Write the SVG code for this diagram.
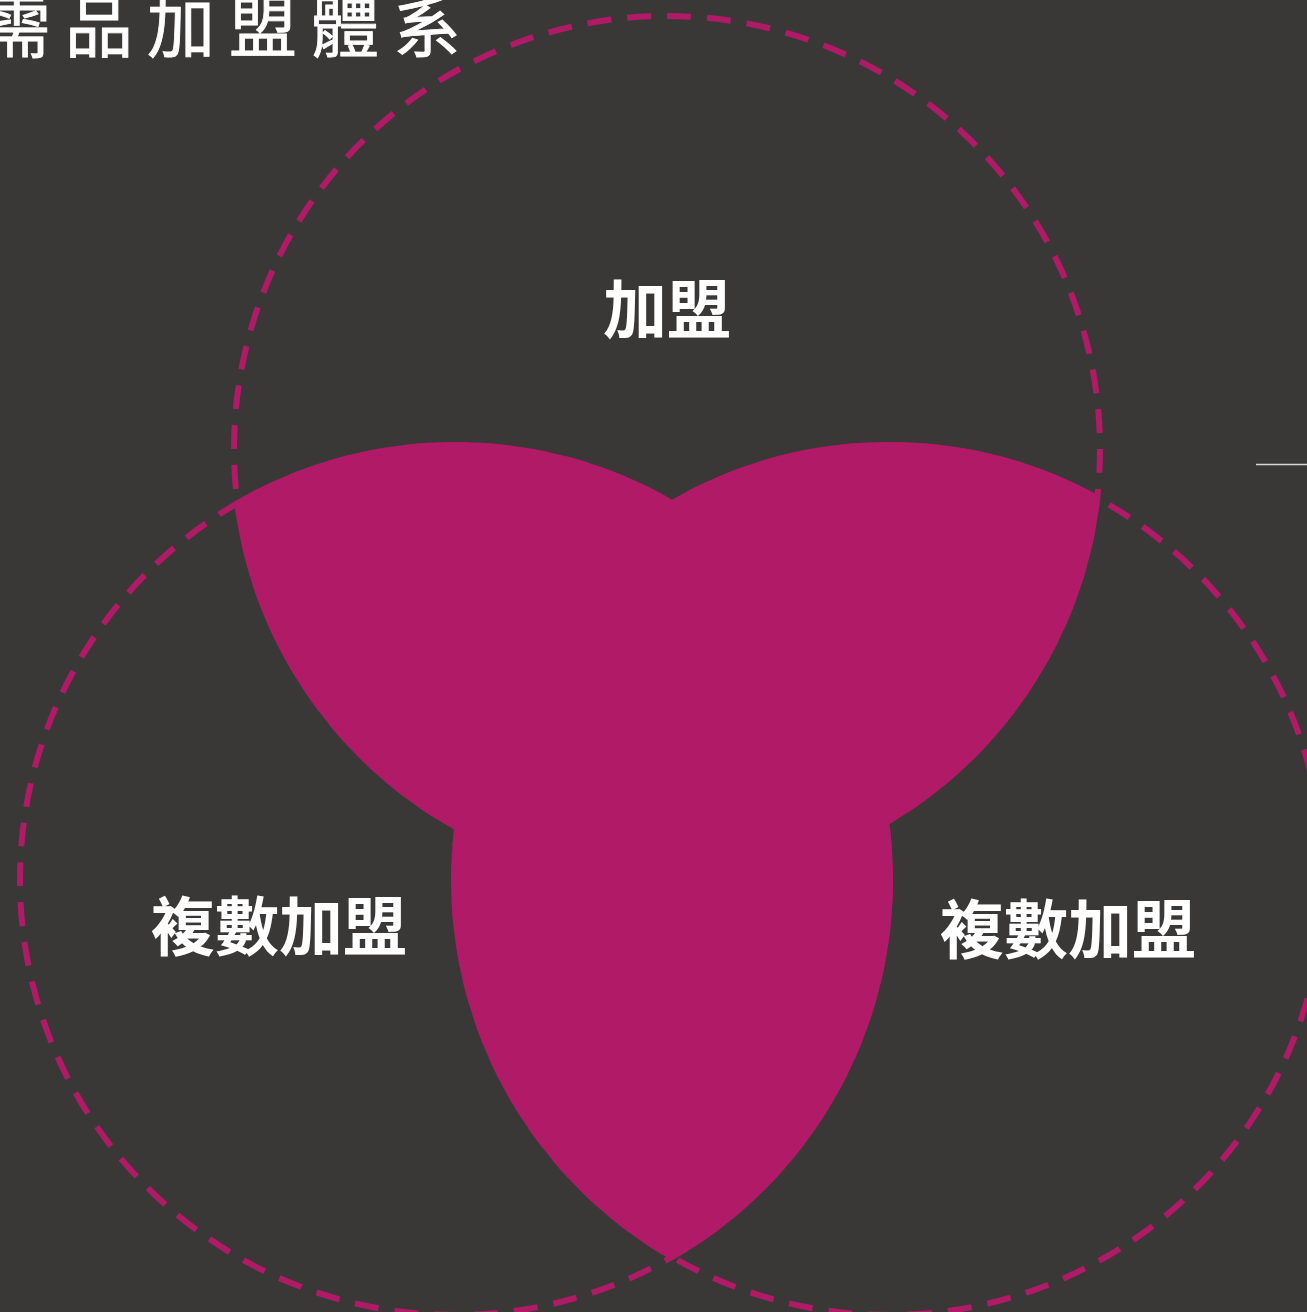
<svg xmlns="http://www.w3.org/2000/svg" width="1307" height="1312" viewBox="0 0 1307 1312">
  <style>
    .ring { fill: none; stroke: #b01a66; stroke-width: 6; stroke-dasharray: 24 16; }
    .petal { fill: #b01a66; stroke: #b01a66; stroke-width: 6; stroke-linejoin: miter; }
    .title { fill: #ffffff; stroke: #ffffff; stroke-width: 0.8; font-family: 'Liberation Sans', 'Noto Sans CJK TC', sans-serif; font-size: 68px; font-weight: 400; letter-spacing: 14px; }
    .label { fill: #ffffff; font-family: 'Liberation Sans', 'Noto Sans CJK TC', sans-serif; font-size: 64px; font-weight: 700; text-anchor: middle; }
  </style>
  <rect x="0" y="0" width="1307" height="1312" fill="#3a3837"/>
  <g id="title">
    <text class="title" x="-17" y="52">需品加盟體系</text>
  </g>
  <g id="circles">
    <circle id="circle-top" class="ring" cx="667" cy="449" r="433"/>
    <circle id="circle-left" class="ring" cx="455" cy="880" r="435"/>
    <circle id="circle-right" class="ring" cx="889" cy="880" r="435"/>
  </g>
  <g id="overlap">
    <path class="petal" d="M 672 503 A 435 435 0 0 0 237.4 503.3 A 433 433 0 0 0 457.2 827.7 A 435 435 0 0 0 672 1257 A 435 435 0 0 0 886.2 822.5 A 433 433 0 0 0 1097.2 498.1 A 435 435 0 0 0 672 503 Z"/>
  </g>
  <g id="labels">
    <text id="label-top" class="label" x="667" y="333">加盟</text>
    <text id="label-left" class="label" x="279" y="950">複數加盟</text>
    <text id="label-right" class="label" x="1068" y="953">複數加盟</text>
  </g>
  <g id="connectors">
    <line x1="1256" y1="464.5" x2="1307" y2="464.5" stroke="#d8d8d8" stroke-width="1.5"/>
  </g>
</svg>
